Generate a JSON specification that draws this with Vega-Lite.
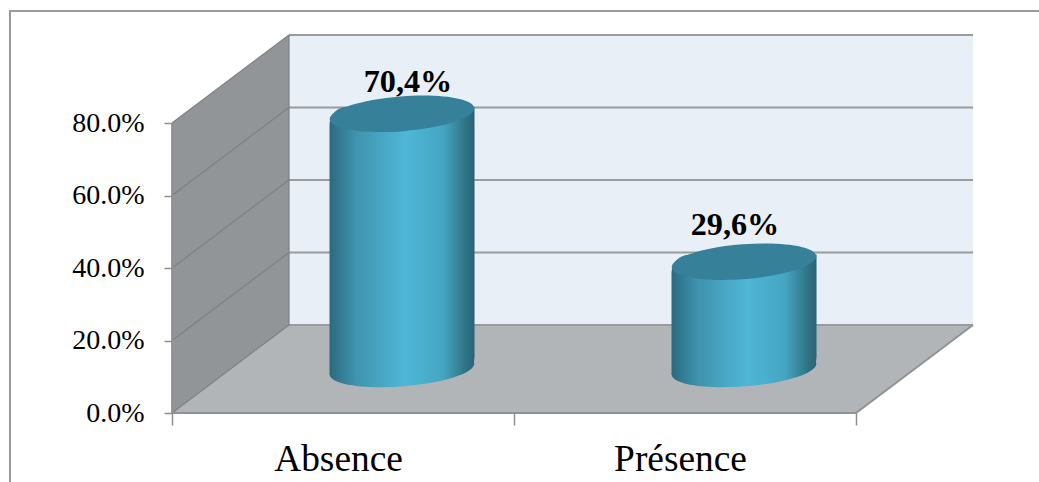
{
  "$schema": "https://vega.github.io/schema/vega-lite/v6.json",
  "width": 1029,
  "height": 471,
  "padding": {"left": 10, "top": 11, "right": 0, "bottom": 0},
  "autosize": "none",
  "background": "white",
  "view": {"stroke": null},
  "config": {"font": "Liberation Serif"},
  "datasets": {
    "frame": [
      {"x": -0.4737, "y": -0.1903},
      {"x": -0.4737, "y": 1.109},
      {"x": 2.535, "y": 1.109}
    ],
    "backWall": [
      {"x": 0.3421, "y": 0.2428, "y2": 1.0428},
      {"x": 2.3421, "y": 0.2428, "y2": 1.0428}
    ],
    "sideWall": [
      {"x": 0, "y": 0, "y2": 0.8},
      {"x": 0.3421, "y": 0.2428, "y2": 1.0428}
    ],
    "floor": [
      {"x": 0, "y": 0, "y2": 0},
      {"x": 0.3421, "y": 0, "y2": 0.2428},
      {"x": 2, "y": 0, "y2": 0.2428},
      {"x": 2.3421, "y": 0.2428, "y2": 0.2428}
    ],
    "backGrid": [
      {"level": "0", "x": 0.3421, "y": 0.2428},
      {"level": "0", "x": 2.3421, "y": 0.2428},
      {"level": "20", "x": 0.3421, "y": 0.4428},
      {"level": "20", "x": 2.3421, "y": 0.4428},
      {"level": "40", "x": 0.3421, "y": 0.6428},
      {"level": "40", "x": 2.3421, "y": 0.6428},
      {"level": "60", "x": 0.3421, "y": 0.8428},
      {"level": "60", "x": 2.3421, "y": 0.8428},
      {"level": "80", "x": 0.3421, "y": 1.0428},
      {"level": "80", "x": 2.3421, "y": 1.0428}
    ],
    "sideGrid": [
      {"level": "0", "x": 0, "y": 0},
      {"level": "0", "x": 0.3421, "y": 0.2428},
      {"level": "20", "x": 0, "y": 0.2},
      {"level": "20", "x": 0.3421, "y": 0.4428},
      {"level": "40", "x": 0, "y": 0.4},
      {"level": "40", "x": 0.3421, "y": 0.6428},
      {"level": "60", "x": 0, "y": 0.6},
      {"level": "60", "x": 0.3421, "y": 0.8428},
      {"level": "80", "x": 0, "y": 0.8},
      {"level": "80", "x": 0.3421, "y": 1.0428},
      {"level": "back", "x": 0.3421, "y": 0.2428},
      {"level": "back", "x": 0.3421, "y": 1.0428}
    ],
    "floorEdge": [
      {"x": 0, "y": 0.8},
      {"x": 0, "y": 0},
      {"x": 2, "y": 0},
      {"x": 2.3421, "y": 0.2428}
    ],
    "shares": [
      {"category": "Absence", "x": 0.5, "y": 0.704, "label": "70,4%"},
      {"category": "Présence", "x": 1.5, "y": 0.296, "label": "29,6%"}
    ],
    "bases": [
      {"category": "Absence", "x": 0.5, "y": 0},
      {"category": "Présence", "x": 1.5, "y": 0}
    ]
  },
  "encoding": {
    "x": {
      "field": "x",
      "type": "quantitative",
      "scale": {"domain": [-0.4737, 2.535], "nice": false, "zero": false, "padding": 0},
      "axis": {
        "title": null,
        "orient": "bottom",
        "offset": -69,
        "values": [0, 0.5, 1, 1.5, 2],
        "grid": false,
        "domain": false,
        "tickSize": 12,
        "tickWidth": 1.5,
        "tickColor": "#8f8f8f",
        "tickOpacity": {"condition": {"test": "datum.value % 1 === 0", "value": 1}, "value": 0},
        "labelExpr": "datum.value === 0.5 ? 'Absence' : datum.value === 1.5 ? 'Présence' : ''",
        "labelFont": "Liberation Serif",
        "labelFontSize": 37.4,
        "labelColor": "#000000",
        "labelBaseline": "alphabetic",
        "labelPadding": 45,
        "labelOffset": -5,
        "labelOverlap": false,
        "labelFlush": false
      }
    },
    "y": {
      "field": "y",
      "type": "quantitative",
      "scale": {"domain": [-0.1903, 1.109], "nice": false, "zero": false, "padding": 0},
      "axis": {
        "title": null,
        "orient": "left",
        "offset": -162,
        "values": [0, 0.2, 0.4, 0.6, 0.8],
        "format": ".1%",
        "grid": false,
        "domain": false,
        "tickSize": 8,
        "tickWidth": 1.5,
        "tickColor": "#8f8f8f",
        "labelFont": "Liberation Serif",
        "labelFontSize": 28,
        "labelColor": "#000000",
        "labelPadding": 20,
        "labelOverlap": false,
        "labelFlush": false
      }
    }
  },
  "layer": [
    {
      "data": {"name": "frame"},
      "mark": {"type": "line", "color": "#9a9a9a", "strokeWidth": 2, "clip": false}
    },
    {
      "data": {"name": "backWall"},
      "mark": {"type": "area", "color": "#e8eff6", "opacity": 1},
      "encoding": {"y2": {"field": "y2"}}
    },
    {
      "data": {"name": "sideWall"},
      "mark": {"type": "area", "color": "#929598", "opacity": 1},
      "encoding": {"y2": {"field": "y2"}}
    },
    {
      "data": {"name": "floor"},
      "mark": {"type": "area", "color": "#b1b5b8", "opacity": 1},
      "encoding": {"y2": {"field": "y2"}}
    },
    {
      "data": {"name": "backGrid"},
      "mark": {"type": "line", "color": "#9a9b9c", "strokeWidth": 2},
      "encoding": {"detail": {"field": "level"}}
    },
    {
      "data": {"name": "sideGrid"},
      "mark": {"type": "line", "color": "#7e8082", "strokeWidth": 1.2},
      "encoding": {"detail": {"field": "level"}}
    },
    {
      "data": {"name": "floorEdge"},
      "mark": {"type": "line", "color": "#8f9193", "strokeWidth": 1.8}
    },
    {
      "data": {"name": "bases"},
      "mark": {
        "type": "point",
        "filled": true,
        "opacity": 1,
        "shape": "M-0.997,0.0785 A1,0.24,-4.5,1,1,0.997,-0.0785 A1,0.24,-4.5,1,1,-0.997,0.0785 Z",
        "size": 21025,
        "xOffset": 59,
        "yOffset": -44,
        "color": {
          "gradient": "linear", "x1": 0, "x2": 1, "y1": 0, "y2": 0,
          "stops": [
            {"offset": 0, "color": "#2a6a80"},
            {"offset": 0.18, "color": "#3f93ad"},
            {"offset": 0.52, "color": "#4fb6d7"},
            {"offset": 0.78, "color": "#45a6c2"},
            {"offset": 0.94, "color": "#2f7386"},
            {"offset": 1, "color": "#2a6374"}
          ]
        }
      }
    },
    {
      "data": {"name": "shares"},
      "mark": {
        "type": "bar",
        "orient": "vertical",
        "width": 145,
        "xOffset": 59,
        "yOffset": -51,
        "y2Offset": -38,
        "cornerRadiusTopLeft": 18,
        "cornerRadiusBottomRight": 18,
        "color": {
          "gradient": "linear", "x1": 0, "x2": 1, "y1": 0, "y2": 0,
          "stops": [
            {"offset": 0, "color": "#2a6a80"},
            {"offset": 0.18, "color": "#3f93ad"},
            {"offset": 0.52, "color": "#4fb6d7"},
            {"offset": 0.78, "color": "#45a6c2"},
            {"offset": 0.94, "color": "#2f7386"},
            {"offset": 1, "color": "#2a6374"}
          ]
        }
      },
      "encoding": {"y2": {"datum": 0}}
    },
    {
      "data": {"name": "shares"},
      "mark": {
        "type": "point",
        "filled": true,
        "opacity": 1,
        "shape": "M-0.997,0.0785 A1,0.24,-4.5,1,1,0.997,-0.0785 A1,0.24,-4.5,1,1,-0.997,0.0785 Z",
        "size": 21025,
        "xOffset": 59,
        "yOffset": -44,
        "color": "#37809a"
      }
    },
    {
      "data": {"name": "shares"},
      "transform": [{"filter": "datum.category === 'Absence'"}],
      "mark": {
        "type": "text",
        "font": "Liberation Serif",
        "fontSize": 32.2,
        "fontWeight": "bold",
        "color": "#000000",
        "align": "center",
        "baseline": "alphabetic",
        "xOffset": 65,
        "yOffset": -66
      },
      "encoding": {"text": {"field": "label"}}
    },
    {
      "data": {"name": "shares"},
      "transform": [{"filter": "datum.category === 'Présence'"}],
      "mark": {
        "type": "text",
        "font": "Liberation Serif",
        "fontSize": 32.2,
        "fontWeight": "bold",
        "color": "#000000",
        "align": "center",
        "baseline": "alphabetic",
        "xOffset": 50,
        "yOffset": -70.7
      },
      "encoding": {"text": {"field": "label"}}
    }
  ]
}
